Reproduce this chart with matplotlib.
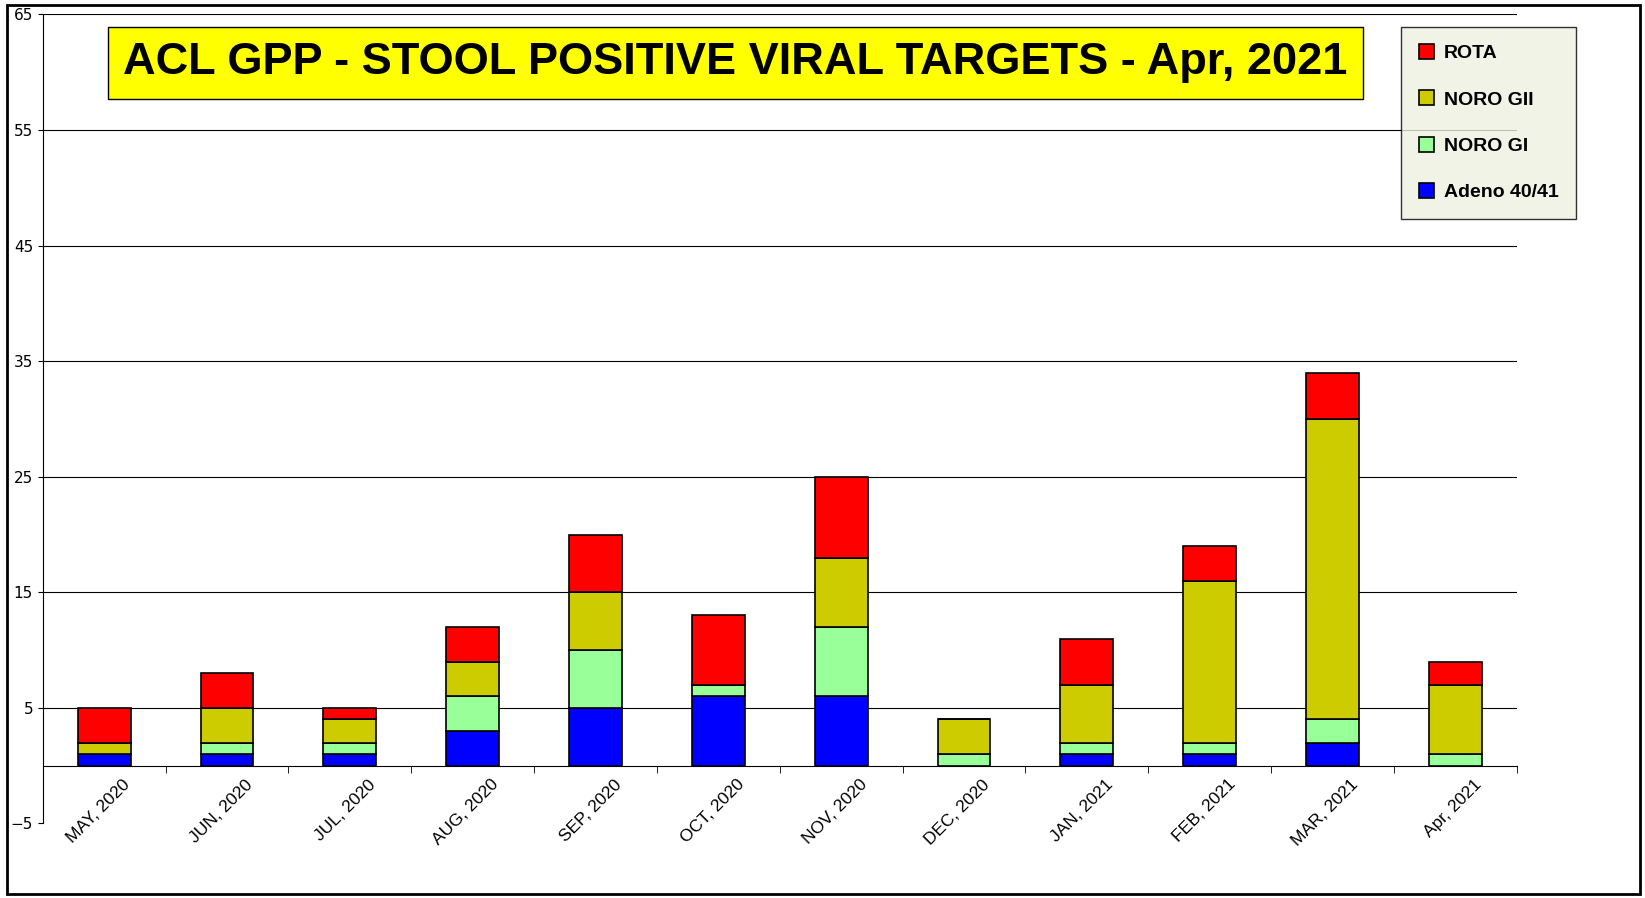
import numpy as np
import matplotlib.pyplot as plt
from matplotlib.patches import Rectangle

months = ["MAY, 2020", "JUN, 2020", "JUL, 2020", "AUG, 2020", "SEP, 2020", "OCT, 2020",
          "NOV, 2020", "DEC, 2020", "JAN, 2021", "FEB, 2021", "MAR, 2021", "Apr, 2021"]
adeno = [1, 1, 1, 3, 5, 6, 6, 0, 1, 1, 2, 0]
noro_gi = [0, 1, 1, 3, 5, 1, 6, 1, 1, 1, 2, 1]
noro_gii = [1, 3, 2, 3, 5, 0, 6, 3, 5, 14, 26, 6]
rota = [3, 3, 1, 3, 5, 6, 7, 0, 4, 3, 4, 2]

series = [("Adeno 40/41", adeno, "#0000ff"), ("NORO GI", noro_gi, "#99ff99"),
          ("NORO GII", noro_gii, "#cccc00"), ("ROTA", rota, "#ff0000")]

fig = plt.figure(figsize=(16.45, 8.98), dpi=100)
ax = fig.add_axes([0.026, 0.083, 0.896, 0.901])
x = np.arange(len(months))
bottom = np.zeros(len(months))
handles = []
for name, vals, col in series:
    b = ax.bar(x, vals, 0.43, bottom=bottom, color=col, edgecolor="black", linewidth=1.2, label=name, zorder=3)
    handles.append(b)
    bottom += np.array(vals)

ax.set_ylim(-5, 65)
ax.set_yticks(np.arange(-5, 66, 10))
ax.set_xlim(-0.5, len(months) - 0.5)
ax.set_xticks(np.arange(-0.5, len(months), 1), minor=True)
ax.set_xticks(x + 0.15)
ax.set_xticklabels(months)
for yv in range(5, 66, 10):
    ax.axhline(yv, color="black", linewidth=0.8, zorder=1)
ax.spines["bottom"].set_position(("data", 0))
ax.spines["right"].set_visible(False)
ax.spines["top"].set_visible(False)
ax.tick_params(axis="y", labelsize=11)
ax.tick_params(axis="x", which="major", length=0, pad=8)
ax.tick_params(axis="x", which="minor", length=5, direction="out")
plt.setp(ax.get_xticklabels(), rotation=45, ha="right", rotation_mode="anchor",
         fontsize=12.5, family="Liberation Sans")

ax.text(0.47, 0.94, "ACL GPP - STOOL POSITIVE VIRAL TARGETS - Apr, 2021", transform=ax.transAxes,
        ha="center", va="center", fontsize=32.5, fontweight="bold", family="Liberation Sans",
        bbox=dict(boxstyle="square,pad=0.35", facecolor="#ffff00", edgecolor="black", linewidth=1))

ax.legend(handles[::-1], [s[0] for s in series[::-1]], loc="upper left",
          bbox_to_anchor=(0.915, 0.997), frameon=True, fancybox=False,
          edgecolor="black", facecolor="#eef0e0", handlelength=0.8, handleheight=0.8,
          labelspacing=1.45, borderpad=0.9, handletextpad=0.5,
          prop=dict(weight="bold", size=14, family="Liberation Sans"))

fig.patches.append(Rectangle((0.004, 0.004), 0.993, 0.99, transform=fig.transFigure,
                             fill=False, edgecolor="black", linewidth=2))
fig.savefig("out.png", dpi=100)
